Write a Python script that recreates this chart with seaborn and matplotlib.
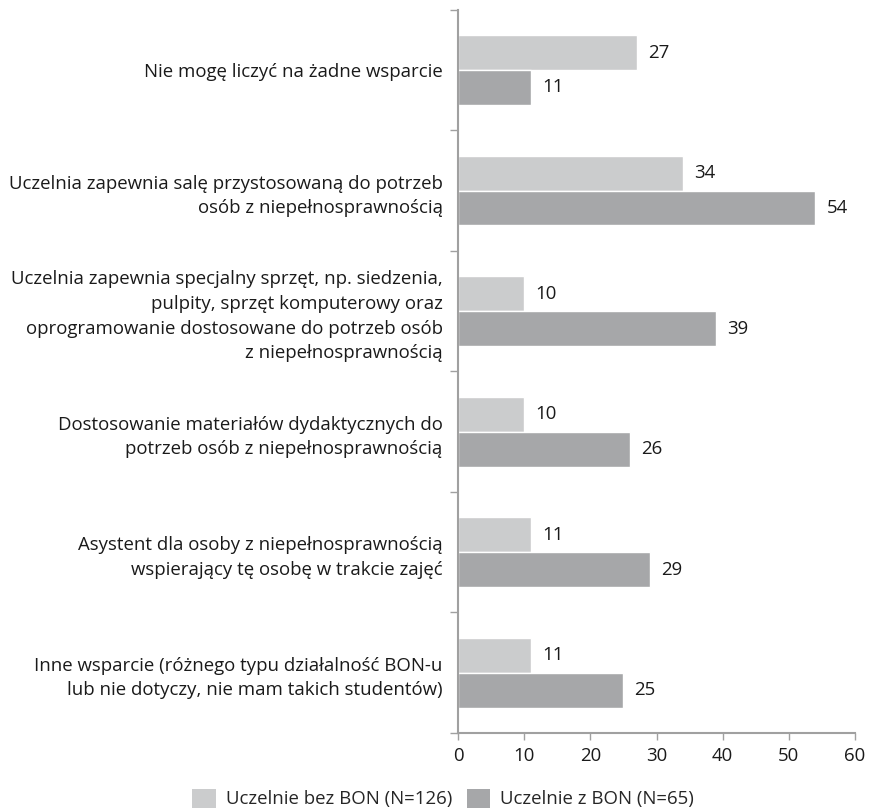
import pandas as pd
import matplotlib.pyplot as plt
import seaborn as sns
from matplotlib.patches import Patch

categories = [
    'Nie mogę liczyć na żadne wsparcie',
    'Uczelnia zapewnia salę przystosowaną do potrzeb\nosób z niepełnosprawnością',
    'Uczelnia zapewnia specjalny sprzęt, np. siedzenia,\npulpity, sprzęt komputerowy oraz\noprogramowanie dostosowane do potrzeb osób\nz niepełnosprawnością',
    'Dostosowanie materiałów dydaktycznych do\npotrzeb osób z niepełnosprawnością',
    'Asystent dla osoby z niepełnosprawnością\nwspierający tę osobę w trakcie zajęć',
    'Inne wsparcie (różnego typu działalność BON-u\nlub nie dotyczy, nie mam takich studentów)',
]
series_names = ['Uczelnie bez BON (N=126)', 'Uczelnie z BON (N=65)']
bez_bon = [27, 34, 10, 10, 11, 11]
z_bon = [11, 54, 39, 26, 29, 25]
x_ticks = [0, 10, 20, 30, 40, 50, 60]

colors = ['#cbcccd', '#a6a7a9']
axis_color = '#a0a0a0'
fs = 13.4

df = pd.DataFrame({
    'category': categories * 2,
    'value': bez_bon + z_bon,
    'series': [series_names[0]] * len(categories) + [series_names[1]] * len(categories),
})

sns.set_style('white')
plt.rcParams['font.family'] = ['Open Sans', 'DejaVu Sans']
plt.rcParams['font.size'] = fs

fig = plt.figure(figsize=(8.69, 8.09), dpi=100)
ax = fig.add_axes([0.527, 0.094, 0.457, 0.894])

sns.barplot(
    data=df, x='value', y='category', hue='series',
    palette=colors, orient='h', width=0.58, gap=0,
    saturation=1, legend=False, ax=ax,
)

# value labels next to each bar
for container in ax.containers:
    ax.bar_label(container, padding=8, fontsize=fs, color='#1a1a1a')

ax.set_xlim(0, 60)
ax.set_ylim(len(categories) - 0.5, -0.5)
ax.set_xticks(x_ticks)
ax.set_xlabel('')
ax.set_ylabel('')

# tick marks between categories on the y axis
ax.set_yticks([i - 0.5 for i in range(len(categories) + 1)], minor=True)
ax.tick_params(axis='y', which='major', length=0, pad=11, labelsize=fs, labelcolor='#1a1a1a')
ax.tick_params(axis='y', which='minor', length=6, width=1, color=axis_color, left=True)
ax.tick_params(axis='x', length=5, width=1, color=axis_color, bottom=True, pad=5,
               labelsize=fs, labelcolor='#1a1a1a')
for label in ax.get_yticklabels():
    label.set_linespacing(1.47)

for side in ['top', 'right']:
    ax.spines[side].set_visible(False)
for side in ['left', 'bottom']:
    ax.spines[side].set_color(axis_color)
    ax.spines[side].set_linewidth(1.5)

handles = [Patch(facecolor=c, edgecolor='none') for c in colors]
fig.legend(handles, series_names, loc='lower center', bbox_to_anchor=(0.51, -0.02),
           ncol=2, frameon=False, fontsize=fs, handlelength=1.25, handleheight=1.2,
           handletextpad=0.55, columnspacing=0.8)

fig.savefig('out.png', dpi=100)
